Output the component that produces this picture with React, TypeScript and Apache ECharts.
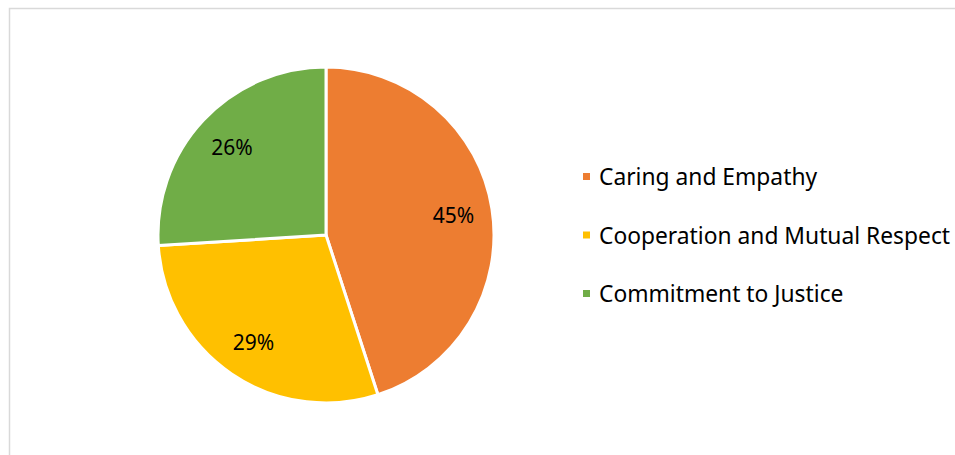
import React, { useEffect, useRef } from "react";
import * as echarts from "echarts";

const categories = ["Caring and Empathy", "Cooperation and Mutual Respect", "Commitment to Justice"];
const values = [45, 29, 26];
const colors = ["#ED7D31", "#FFC000", "#70AD47"];

export default function App() {
  const ref = useRef<HTMLDivElement>(null);
  useEffect(() => {
    const chart = echarts.init(ref.current!, null, { renderer: "svg" });
    const data = categories.map((name, i) => ({ name, value: values[i], itemStyle: { color: colors[i] } }));
    chart.setOption({
      animation: false,
      graphic: [
        {
          type: "rect",
          shape: { x: 9.5, y: 8.5, width: 1000, height: 500 },
          style: { fill: "none", stroke: "#d9d9d9", lineWidth: 1.5 },
          silent: true,
        },
      ],
      legend: {
        orient: "vertical",
        left: 576,
        top: 160,
        itemWidth: 9,
        itemHeight: 9,
        itemGap: 35.5,
        icon: "rect",
        textStyle: { fontFamily: "Noto Sans", fontSize: 22.8, color: "#000", padding: [0, 0, 0, 3] },
        data: categories,
      },
      series: [
        {
          type: "pie",
          center: [326, 235],
          radius: [0, 168],
          startAngle: 90,
          clockwise: true,
          data,
          label: { show: false },
          labelLine: { show: false },
          itemStyle: { borderColor: "#fff", borderWidth: 3 },
          emphasis: { disabled: true },
        },
        {
          type: "pie",
          center: [326, 235],
          radius: [84, 168],
          startAngle: 90,
          clockwise: true,
          silent: true,
          data: categories.map((name, i) => ({ name, value: values[i] })),
          itemStyle: { color: "transparent" },
          label: {
            show: true,
            position: "inside",
            formatter: "{c}%",
            fontFamily: "Noto Sans",
            fontSize: 21,
            color: "#000",
          },
          labelLine: { show: false },
          emphasis: { disabled: true },
          legendHoverLink: false,
        },
      ],
    });
    return () => chart.dispose();
  }, []);
  return <div ref={ref} style={{ position: "fixed", left: 0, top: 0, width: 955, height: 455, background: "#fff" }} />;
}
